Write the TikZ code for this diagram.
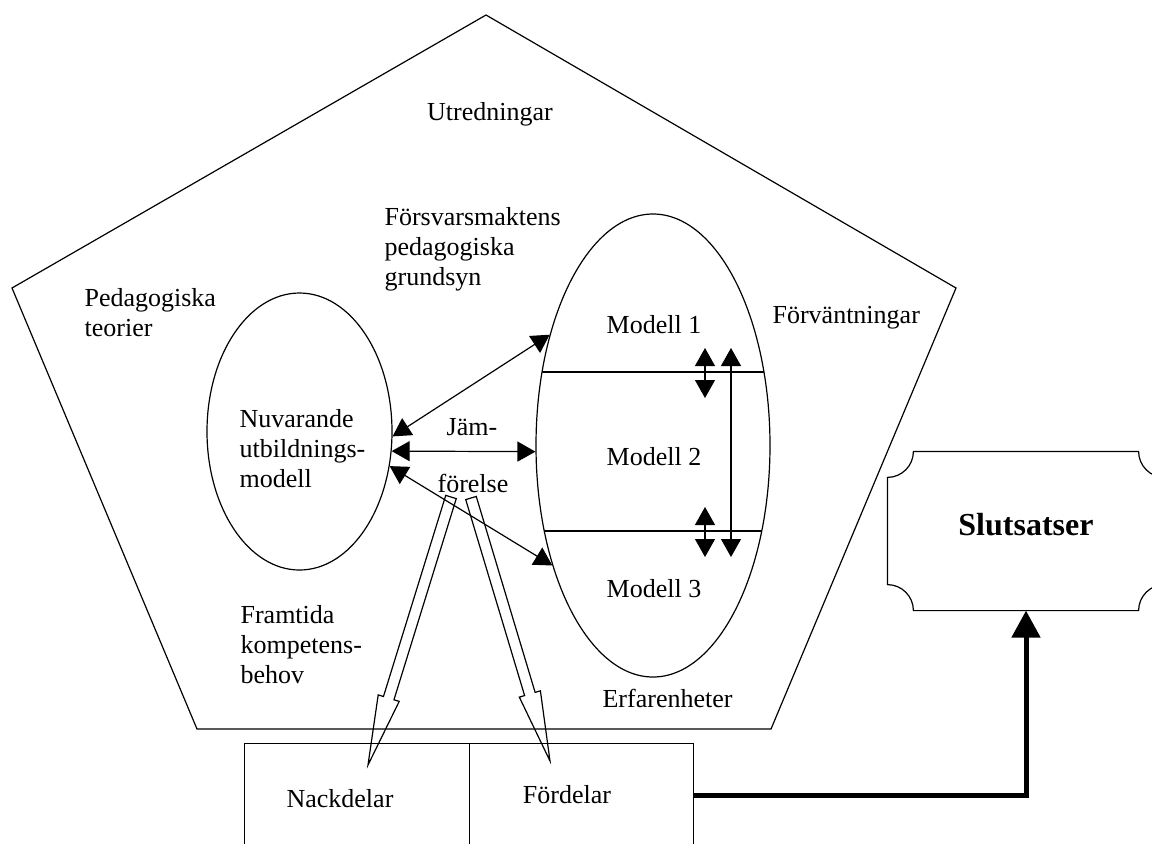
\documentclass[tikz,border=0pt]{standalone}
\usepackage{fontspec}
\setmainfont{Liberation Serif}
\usetikzlibrary{arrows.meta,calc,shapes.geometric}

% hollow block arrow from #1 to #2
\newcommand\hollowarrow[2]{%
  \coordinate (#1b) at ($(#2)!35pt!(#1)$);
  \draw ($(#1)!2.75pt!90:(#2)$) -- ($(#1b)!2.75pt!90:(#2)$)
     -- ($(#1b)!5.5pt!90:(#2)$) -- (#2)
     -- ($(#1b)!5.5pt!-90:(#2)$) -- ($(#1b)!2.75pt!-90:(#2)$)
     -- ($(#1)!2.75pt!-90:(#2)$) -- cycle;
}

\begin{document}
\begin{tikzpicture}[x=0.5pt,y=-0.5pt,
  line width=0.6pt,
  txt/.style={inner sep=0pt, font=\fontsize{13pt}{15pt}\selectfont, align=left},
  oval/.style={draw, ellipse, inner sep=0pt},
  box/.style={draw, rectangle, inner sep=0pt},
  dbl/.style={{Triangle[length=9pt,width=10pt]}-{Triangle[length=9pt,width=10pt]}},
  heavy/.style={line width=2.5pt, -{Triangle[length=13.5pt,width=14pt]}},
]
\useasboundingbox (0,0) rectangle (1152,843);

% outer pentagon
\coordinate (pt) at (486,15);
\coordinate (pr) at (956,288);
\coordinate (pbr) at (771,729);
\coordinate (pbl) at (197,729);
\coordinate (pl) at (12,288);
\draw (pt) -- (pr) -- (pbr) -- (pbl) -- (pl) -- cycle;

% the two ovals
\node[oval, minimum width=92.5pt, minimum height=138.5pt] (cur) at (299.5,431.5) {};
\node[oval, minimum width=117pt, minimum height=231.5pt] (mod) at (653,445.5) {};

% dividers of the model oval
\coordinate (d1a) at (520,372); \coordinate (d1b) at (790,372);
\coordinate (d2a) at (520,531); \coordinate (d2b) at (790,531);
\begin{scope}
  \clip (mod.center) ellipse [x radius=58.5pt, y radius=115.75pt];
  \draw (d1a) -- (d1b);
  \draw (d2a) -- (d2b);
\end{scope}

% labels (multi-line nodes are placed by the baseline of their last line)
\node[txt, anchor=base] (utr) at (490,120) {Utredningar};
\node[txt, anchor=base west] (fms) at (384,285) {Försvarsmaktens\\pedagogiska\\grundsyn};
\node[txt, anchor=base west] (ped) at (84,336) {Pedagogiska\\teorier};
\node[txt, anchor=base west] (nuv) at (239,487) {Nuvarande\\utbildnings-\\modell};
\node[txt, anchor=base west] (frv) at (772,323) {Förväntningar};
\node[txt, anchor=base west] (fra) at (240,683) {Framtida\\kompetens-\\behov};
\node[txt, anchor=base west] (erf) at (602,707) {Erfarenheter};
\node[txt, anchor=base] (m1) at (654,333) {Modell 1};
\node[txt, anchor=base] (m2) at (654,465) {Modell 2};
\node[txt, anchor=base] (m3) at (654,597) {Modell 3};
\node[txt, anchor=base] (jam1) at (472,435) {Jäm-};
\node[txt, anchor=base] (jam2) at (473,492) {förelse};

% comparison arrows
\draw[dbl] (cur.-3) -- (mod.133);
\draw[dbl] (cur.-12) -- (mod.183);
\draw[dbl] (cur.-21) -- (mod.230);

% arrows between the models
\coordinate (v1a) at (705,348); \coordinate (v1b) at (705,398);
\coordinate (v2a) at (705,507); \coordinate (v2b) at (705,557);
\coordinate (v3a) at (731,348); \coordinate (v3b) at (731,557);
\draw[dbl] (v1a) -- (v1b);
\draw[dbl] (v2a) -- (v2b);
\draw[dbl] (v3a) -- (v3b);

% result boxes
\node[box, minimum width=112.5pt, minimum height=52pt, anchor=north west] (con) at (244,743) {};
\node[box, minimum width=112pt, minimum height=52pt, anchor=north west] (pro) at (469,743) {};
\node[txt, anchor=base] (nack) at (340,807) {Nackdelar};
\node[txt, anchor=base] (ford) at (567,803) {Fördelar};

% block arrows into the result boxes
\coordinate (hs1) at (451,497); \coordinate (ht1) at (368,765);
\coordinate (hs2) at (471,498); \coordinate (ht2) at (550,761);
\hollowarrow{hs1}{ht1}
\hollowarrow{hs2}{ht2}

% conclusions plaque
\node[inner sep=0pt, minimum width=138pt, minimum height=79pt,
      font=\fontsize{16pt}{19pt}\selectfont\bfseries,
      text height=11pt, text depth=7pt] (res) at (1026,531) {Slutsatser};
\draw ($(res.north west)+(13pt,0pt)$) arc[start angle=0,end angle=-90,radius=13pt]
   -- ($(res.south west)+(0pt,13pt)$) arc[start angle=90,end angle=0,radius=13pt]
   -- ($(res.south east)+(-13pt,0pt)$) arc[start angle=180,end angle=90,radius=13pt]
   -- ($(res.north east)+(0pt,-13pt)$) arc[start angle=-90,end angle=-180,radius=13pt]
   -- cycle;

\draw[heavy] (pro.east) -| (res.south);
\end{tikzpicture}
\end{document}
